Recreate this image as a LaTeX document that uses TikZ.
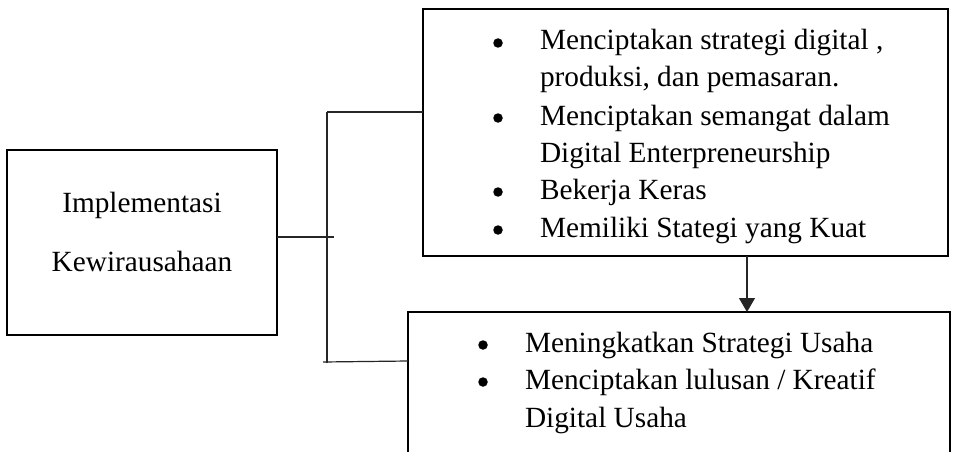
\documentclass[tikz,border=0pt]{standalone}
\usepackage{fontspec}
\setmainfont{Liberation Serif}
\usetikzlibrary{arrows.meta}

\tikzset{
  frame/.style={draw=black, line width=2.6pt, inner sep=0pt, outer sep=0pt},
  wire/.style={draw=black!85, line width=1.2pt},
  txt/.style={inner sep=0pt, outer sep=0pt, font=\fontsize{29.3}{37.5}\selectfont},
  item/.style={txt, anchor=base west},
  dot/.style={circle, fill=black, inner sep=0pt, minimum size=9.5pt, yshift=7pt},
  flow/.style={wire, -{Triangle[width=16pt,length=14pt]}}
}

\begin{document}
\begin{tikzpicture}[x=1pt, y=-1pt]
  \clip (0,0) rectangle (964,452);
  \fill[white] (0,0) rectangle (964,452);

  % boxes
  \node[frame, minimum width=270pt, minimum height=185pt] (lb) at (142,242.5) {};
  \node[frame, minimum width=525pt, minimum height=247pt] (tb) at (685.5,132.5) {};
  \node[frame, minimum width=542pt, minimum height=170pt] (bb) at (679,397) {};

  % left box label
  \node[txt, anchor=base] (l1) at (142,212) {Implementasi};
  \node[txt, anchor=base] (l2) at (142,271) {Kewirausahaan};

  % upper list
  \node[dot]  (tb1) at (498,50)  {};
  \node[item] (tt1) at (540,50)  {Menciptakan strategi digital ,};
  \node[item] (tt2) at (540,87)  {produksi, dan pemasaran.};
  \node[dot]  (tb2) at (498,125) {};
  \node[item] (tt3) at (540,125) {Menciptakan semangat dalam};
  \node[item] (tt4) at (540,162) {Digital Enterpreneurship};
  \node[dot]  (tb3) at (498,199) {};
  \node[item] (tt5) at (540,199) {Bekerja Keras};
  \node[dot]  (tb4) at (498,237) {};
  \node[item] (tt6) at (540,237) {Memiliki Stategi yang Kuat};

  % lower list
  \node[dot]  (bb1) at (483,352) {};
  \node[item] (bt1) at (525,352) {Meningkatkan Strategi Usaha};
  \node[dot]  (bb2) at (483,389) {};
  \node[item] (bt2) at (525,389) {Menciptakan lulusan / Kreatif};
  \node[item] (bt3) at (525,427) {Digital Usaha};

  % bracket joining the left box to both lists
  \coordinate (jt)   at (327,112);
  \coordinate (jb)   at (327,363);
  \coordinate (stub) at (334,237);
  \coordinate (jbl)  at (323,362);
  \coordinate (ax)   at (747,0);

  \draw[wire] ([yshift=5.5pt]lb.east) -- (stub);
  \draw[wire] (jt) -- (jb);
  \draw[wire] (jt) -- (tb.west |- jt);
  \draw[wire] (jbl) -- (bb.west |- 0,361);

  % arrow from the upper list to the lower list
  \draw[flow] (tb.south -| ax) -- (bb.north -| ax);
\end{tikzpicture}
\end{document}
